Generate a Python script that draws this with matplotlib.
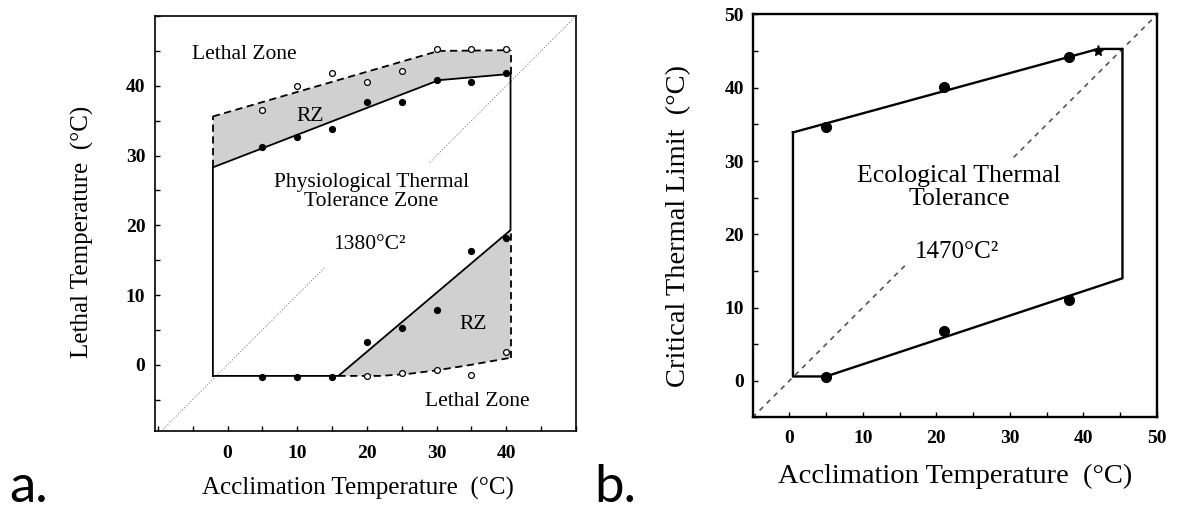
import numpy as np
import matplotlib.pyplot as plt
from matplotlib.ticker import MultipleLocator

plt.rcParams['font.family'] = ['Liberation Serif', 'DejaVu Serif']

# ---------- panel a data ----------
acc_a = [5, 10, 15, 20, 25, 30, 35, 40]
upper_closed = [31.2, 32.7, 33.8, 37.7, 37.7, 40.8, 40.6, 41.8]
upper_open = [36.5, 40.0, 41.8, 40.6, 42.1, 45.3, 45.3, 45.3]
lower_closed = [-1.7, -1.7, -1.7, 3.3, 5.2, 7.9, 16.3, 18.2]
lower_open_x = [20, 25, 30, 35, 40]
lower_open = [-1.6, -1.2, -0.7, -1.5, 1.8]

# zone boundaries
up_solid_x = [-2.1, 30.3, 40.6]
up_solid_y = [28.3, 40.8, 41.7]
up_dash_x = [-2.1, 30.3, 40.6]
up_dash_y = [35.6, 45.0, 45.1]
lo_solid_x = [-2.1, 15.9, 40.6]
lo_solid_y = [-1.6, -1.6, 19.3]
lo_dash_x = [15.9, 22, 26, 30, 35, 40.6]
lo_dash_y = [-1.6, -1.6, -1.3, -0.8, 0.0, 1.0]
diag_a_lo = [-10.4, 14]
diag_a_hi = [29, 50]

# ---------- panel b data ----------
acc_b = [5, 21, 38]
ctmax = [34.6, 40.1, 44.2]
ctmin = [0.5, 6.8, 11.1]
star_x, star_y = [42], [45.0]
poly_b_x = [0.5, 42, 45.3, 45.3, 5, 0.5, 0.5]
poly_b_y = [33.9, 45.3, 45.3, 14.0, 0.6, 0.6, 33.9]
diag_b_lo = [-5, 16]
diag_b_hi = [30.5, 50]

fig = plt.figure(figsize=(11.78, 5.12), dpi=100)
ax1 = fig.add_axes([0.1316, 0.1582, 0.3574, 0.8105])
ax2 = fig.add_axes([0.6388, 0.1846, 0.3434, 0.7871])

grey = '#d0d0d0'

# ---- panel a ----
ax1.plot(diag_a_lo, diag_a_lo, ls=':', color='#8a8a8a', lw=0.8)
ax1.plot(diag_a_hi, diag_a_hi, ls=':', color='#8a8a8a', lw=0.8)

# shaded resistance zones
ax1.fill(np.concatenate([up_solid_x, up_dash_x[::-1]]),
         np.concatenate([up_solid_y, up_dash_y[::-1]]), color=grey, lw=0)
ax1.fill(np.concatenate([lo_solid_x[1:], lo_dash_x[::-1]]),
         np.concatenate([lo_solid_y[1:], lo_dash_y[::-1]]), color=grey, lw=0)

# tolerance polygon (solid)
px = [up_solid_x[0]] + up_solid_x + [lo_solid_x[-1]] + lo_solid_x[::-1]
py = [lo_solid_y[0]] + up_solid_y + [lo_solid_y[-1]] + lo_solid_y[::-1]
ax1.plot(px, py, color='black', lw=1.3)

dash = dict(color='black', lw=1.3, ls=(0, (4, 2.5)))
ax1.plot(up_dash_x, up_dash_y, **dash)
ax1.plot([up_dash_x[0]] * 2, [up_solid_y[0], up_dash_y[0]], **dash)
ax1.plot([up_dash_x[-1]] * 2, [up_solid_y[-1], up_dash_y[-1]], **dash)
ax1.plot(lo_dash_x, lo_dash_y, **dash)
ax1.plot([lo_dash_x[-1]] * 2, [lo_dash_y[-1], lo_solid_y[-1]], **dash)

ax1.plot(acc_a, upper_closed, 'o', color='black', ms=4.2)
ax1.plot(acc_a, lower_closed, 'o', color='black', ms=4.2)
ax1.plot(acc_a, upper_open, 'o', mfc='white', mec='black', ms=4.2, mew=0.9)
ax1.plot(lower_open_x, lower_open, 'o', mfc='white', mec='black', ms=4.2, mew=0.9)

tfs = 15.5
ax1.text(-5.1, 44.5, 'Lethal Zone', fontsize=tfs, va='center', ha='left')
ax1.text(11.9, 35.6, 'RZ', fontsize=tfs, va='center', ha='center')
ax1.text(20.6, 24.7, 'Physiological Thermal\nTolerance Zone', fontsize=tfs,
         va='center', ha='center', linespacing=1.0)
ax1.text(20.3, 17.3, '1380°C²', fontsize=tfs, va='center', ha='center')
ax1.text(35.2, 5.7, 'RZ', fontsize=tfs, va='center', ha='center')
ax1.text(35.8, -5.2, 'Lethal Zone', fontsize=tfs, va='center', ha='center')

ax1.set_xlim(-10.4, 50)
ax1.set_ylim(-9.5, 50)
ax1.set_xticks([0, 10, 20, 30, 40])
ax1.set_yticks([0, 10, 20, 30, 40])
ax1.xaxis.set_minor_locator(MultipleLocator(5))
ax1.yaxis.set_minor_locator(MultipleLocator(5))
ax1.set_xlabel('Acclimation Temperature  (°C)', fontsize=18)
ax1.set_ylabel('Lethal Temperature  (°C)', fontsize=18)
ax1.xaxis.set_label_coords(0.483, -0.11)
ax1.yaxis.set_label_coords(-0.145, 0.48)
ax1.tick_params(axis='x', pad=10)
ax1.tick_params(axis='y', pad=7)

# ---- panel b ----
ax2.plot(diag_b_lo, diag_b_lo, ls=(0, (3, 3)), color='#555555', lw=1.2)
ax2.plot(diag_b_hi, diag_b_hi, ls=(0, (3, 3)), color='#555555', lw=1.2)
ax2.plot(poly_b_x, poly_b_y, color='black', lw=1.7)
ax2.plot(acc_b, ctmax, 'o', color='black', ms=7)
ax2.plot(acc_b, ctmin, 'o', color='black', ms=7)
ax2.plot(star_x, star_y, '*', color='black', ms=8)

ax2.text(23.1, 26.4, 'Ecological Thermal\nTolerance', fontsize=18.5,
         va='center', ha='center', linespacing=1.1)
ax2.text(22.8, 17.6, '1470°C²', fontsize=18, va='center', ha='center')

ax2.set_xlim(-5, 50)
ax2.set_ylim(-5, 50)
ax2.set_xticks([0, 10, 20, 30, 40, 50])
ax2.set_yticks([0, 10, 20, 30, 40, 50])
ax2.xaxis.set_minor_locator(MultipleLocator(5))
ax2.yaxis.set_minor_locator(MultipleLocator(5))
ax2.set_xlabel('Acclimation Temperature  (°C)', fontsize=20.5)
ax2.set_ylabel('Critical Thermal Limit  (°C)', fontsize=20.5)
ax2.xaxis.set_label_coords(0.502, -0.115)
ax2.yaxis.set_label_coords(-0.152, 0.475)
ax2.tick_params(axis='x', pad=9)
ax2.tick_params(axis='y', pad=6)

for ax, sw in ((ax1, 1.2), (ax2, 1.7)):
    for s in ax.spines.values():
        s.set_linewidth(sw)
    ax.tick_params(which='both', direction='in', length=3.5, width=1,
                   labelsize=14)
    for lab in ax.get_xticklabels() + ax.get_yticklabels():
        lab.set_fontweight('bold')

fig.text(9 / 1178, 0.002, 'a.', fontsize=38, family='Lato', va='bottom')
fig.text(594 / 1178, 0.002, 'b.', fontsize=38, family='Lato', va='bottom')

fig.savefig('out.png', dpi=100)
